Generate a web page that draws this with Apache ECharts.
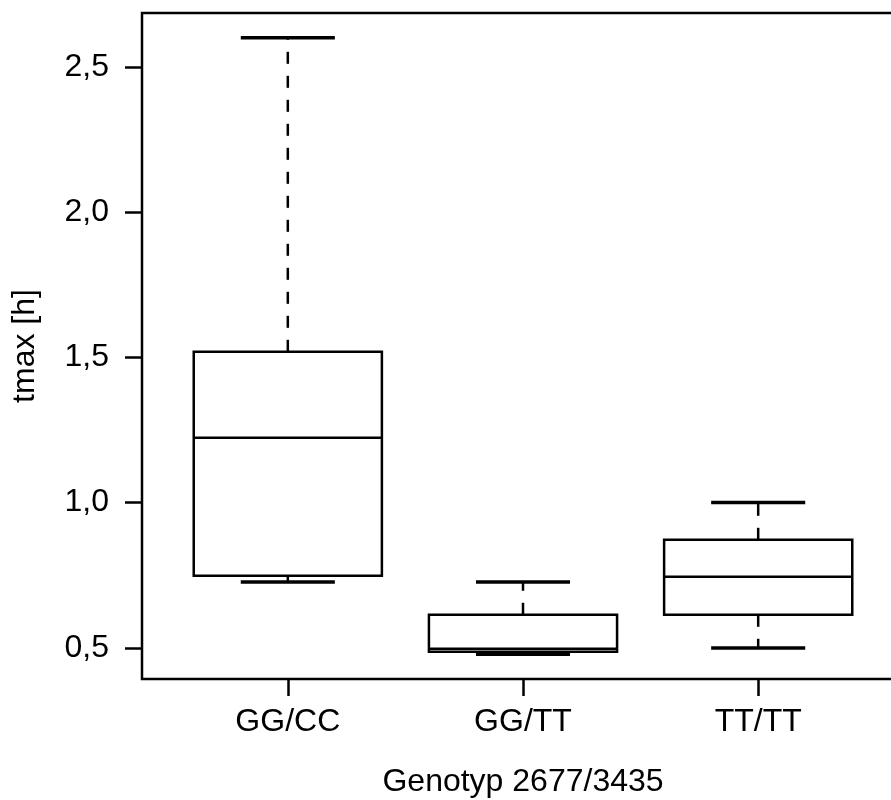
<!DOCTYPE html>
<html>
<head>
<meta charset="utf-8">
<script src="https://cdn.jsdelivr.net/npm/echarts@6/dist/echarts.min.js"></script>
<style>
  html, body { margin: 0; padding: 0; background: #fff; overflow: hidden; }
  #main { width: 920px; height: 800px; }
</style>
</head>
<body>
<div id="main"></div>
<script>
// Daten
const categories = ['GG/CC', 'GG/TT', 'TT/TT']
const whiskerLow = [0.727, 0.478, 0.5]
const q1 = [0.748, 0.487, 0.614]
const median = [1.223, 0.497, 0.745]
const q3 = [1.519, 0.614, 0.872]
const whiskerHigh = [2.6, 0.727, 1.0]
const yTicks = [0.5, 1.0, 1.5, 2.0, 2.5]
const xTicks = [1, 2, 3]

const font = '"Liberation Sans", Arial, Helvetica, sans-serif'
const boxData = categories.map((c, i) => [i + 1, whiskerLow[i], q1[i], median[i], q3[i], whiskerHigh[i]])

function renderBox(params, api) {
  const x = api.value(0)
  const w = api.size([0.8, 0])[0]
  const half = w / 2
  const cap = w / 4
  const pLow = api.coord([x, api.value(1)])
  const pQ1 = api.coord([x, api.value(2)])
  const pMed = api.coord([x, api.value(3)])
  const pQ3 = api.coord([x, api.value(4)])
  const pHigh = api.coord([x, api.value(5)])
  const cx = pMed[0]
  const solid = { stroke: '#000', lineWidth: 2.5, fill: null }
  const dashed = { stroke: '#000', lineWidth: 2.5, lineDash: [12, 12] }
  const capStyle = { stroke: '#000', lineWidth: 3.5 }
  return {
    type: 'group',
    children: [
      { type: 'line', shape: { x1: cx, y1: pQ3[1], x2: cx, y2: pHigh[1] }, style: dashed },
      { type: 'line', shape: { x1: cx, y1: pQ1[1], x2: cx, y2: pLow[1] }, style: dashed },
      { type: 'line', shape: { x1: cx - cap, y1: pHigh[1], x2: cx + cap, y2: pHigh[1] }, style: capStyle },
      { type: 'line', shape: { x1: cx - cap, y1: pLow[1], x2: cx + cap, y2: pLow[1] }, style: capStyle },
      { type: 'rect', shape: { x: cx - half, y: pQ3[1], width: w, height: pQ1[1] - pQ3[1] }, style: solid },
      { type: 'line', shape: { x1: cx - half, y1: pMed[1], x2: cx + half, y2: pMed[1] }, style: { stroke: '#000', lineWidth: 2.5 } }
    ]
  }
}

const myChart = echarts.init(document.getElementById('main'))
myChart.setOption({
  animation: false,
  backgroundColor: '#fff',
  grid: {
    left: 142, top: 13, width: 762, height: 666,
    outerBoundsMode: 'none',
    containLabel: false,
    show: true, borderColor: '#000', borderWidth: 2.5, backgroundColor: 'transparent'
  },
  xAxis: {
    type: 'value',
    min: 0.38, max: 3.62,
    name: 'Genotyp 2677/3435',
    nameLocation: 'middle',
    nameGap: 87,
    nameTextStyle: { fontSize: 32, color: '#000', fontFamily: font },
    axisLine: { show: false },
    splitLine: { show: false },
    axisTick: { show: true, length: 17, lineStyle: { color: '#000', width: 2.5 }, customValues: xTicks },
    axisLabel: {
      customValues: xTicks, fontSize: 32, color: '#000', fontFamily: font, margin: 27,
      formatter: v => categories[Math.round(v) - 1]
    }
  },
  yAxis: {
    type: 'value',
    min: 0.393, max: 2.685,
    name: 'tmax [h]',
    nameLocation: 'middle',
    nameRotate: 90,
    nameGap: 101,
    nameTextStyle: { fontSize: 32, color: '#000', fontFamily: font },
    axisLine: { show: false },
    splitLine: { show: false },
    axisTick: { show: true, length: 17, lineStyle: { color: '#000', width: 2.5 }, customValues: yTicks },
    axisLabel: {
      customValues: yTicks, fontSize: 32, color: '#000', fontFamily: font, margin: 33,
      formatter: v => v.toFixed(1).replace('.', ',')
    }
  },
  series: [
    {
      type: 'custom',
      renderItem: renderBox,
      data: boxData,
      encode: { x: 0, y: [1, 2, 3, 4, 5] },
      clip: false
    }
  ]
})
</script>
</body>
</html>
